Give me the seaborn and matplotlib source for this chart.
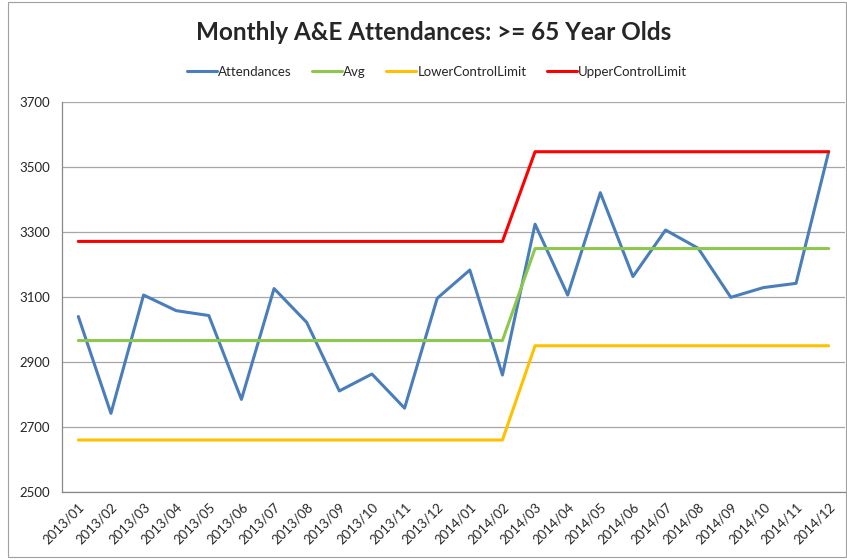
import numpy as np
import pandas as pd
import seaborn as sns
import matplotlib.pyplot as plt
from matplotlib.patches import Rectangle
from matplotlib.ticker import FixedLocator

sns.set_style('white')
plt.rcParams['font.family'] = ['Lato', 'DejaVu Sans']

# data
months = ['2013/01', '2013/02', '2013/03', '2013/04', '2013/05', '2013/06',
          '2013/07', '2013/08', '2013/09', '2013/10', '2013/11', '2013/12',
          '2014/01', '2014/02', '2014/03', '2014/04', '2014/05', '2014/06',
          '2014/07', '2014/08', '2014/09', '2014/10', '2014/11', '2014/12']
attendances = [3040, 2742, 3106, 3058, 3043, 2785, 3126, 3022, 2811, 2863, 2758, 3096,
               3183, 2860, 3324, 3106, 3421, 3163, 3306, 3250, 3099, 3129, 3142, 3547]
avg = [2966] * 14 + [3249] * 10
lcl = [2660] * 14 + [2950] * 10
ucl = [3271] * 14 + [3547] * 10

df = pd.DataFrame({'pos': np.arange(len(months)), 'month': months,
                   'Attendances': attendances, 'Avg': avg,
                   'LowerControlLimit': lcl, 'UpperControlLimit': ucl})

colors = {'Attendances': '#4A7EBB', 'Avg': '#8CC84B',
          'LowerControlLimit': '#FFC000', 'UpperControlLimit': '#FF0000'}

fig = plt.figure(figsize=(8.47, 5.6), dpi=100)
ax = fig.add_axes([62/847, 68/560, 783/847, 390/560])

for col in ['Attendances', 'Avg', 'LowerControlLimit', 'UpperControlLimit']:
    sns.lineplot(data=df, x='pos', y=col, ax=ax, color=colors[col], linewidth=2.2, label=col)

ax.set_xlim(-0.5, len(months) - 0.5)
ax.set_ylim(2500, 3700)
ax.set_yticks(range(2500, 3701, 200))
ax.set_xticks(df['pos'])
ax.set_xticklabels(months, rotation=45, ha='right', rotation_mode='anchor', fontsize=9.5)
ax.xaxis.set_minor_locator(FixedLocator(np.arange(-0.5, len(months), 1)))
ax.tick_params(axis='x', which='major', length=0, pad=6)
ax.tick_params(axis='x', which='minor', length=5, color='#888888', direction='out')
ax.tick_params(axis='y', length=5, color='#888888', direction='out', labelsize=9.5)
ax.yaxis.grid(True, color='#A6A6A6', linewidth=0.9)
ax.set_xlabel('')
ax.set_ylabel('')
for s in ['top', 'right']:
    ax.spines[s].set_visible(False)
for s in ['left', 'bottom']:
    ax.spines[s].set_color('#888888')
    ax.spines[s].set_linewidth(0.9)

ax.get_legend().remove()
handles, labels = ax.get_legend_handles_labels()
fig.legend(handles, labels, loc='center', bbox_to_anchor=(437/847, 1 - 72/560), ncol=4,
           frameon=False, fontsize=9.5, handlelength=2.3, columnspacing=1.5, handletextpad=0.1)

fig.text(434/847, 1 - 33/560, 'Monthly A&E Attendances: >= 65 Year Olds',
         ha='center', va='center', fontsize=17.5, fontweight='bold')

fig.patches.append(Rectangle((8/847, 3/560), 838/847, 555/560, transform=fig.transFigure,
                             fill=False, edgecolor='#A0A0A0', linewidth=0.8))

fig.savefig('out.png', dpi=100)
